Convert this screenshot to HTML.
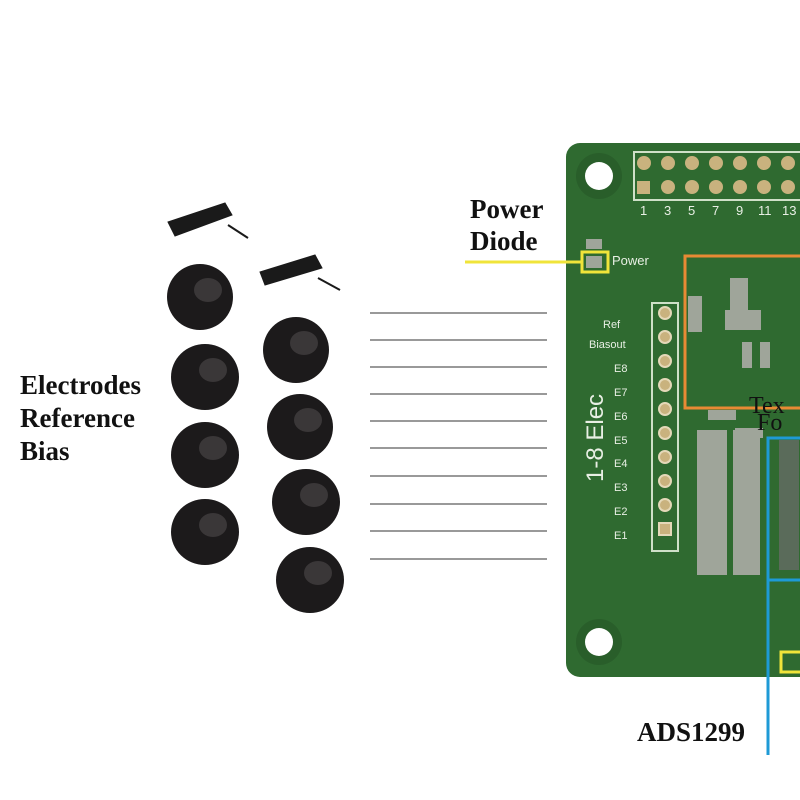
<!DOCTYPE html>
<html><head><style>body{margin:0;background:#fff}svg{display:block}</style></head><body>
<svg width="800" height="800" xmlns="http://www.w3.org/2000/svg" font-family="Liberation Serif, serif">
<rect width="800" height="800" fill="#fff"/>
<!-- PCB -->
<rect x="566" y="143" width="260" height="534" rx="14" fill="#2f6a30"/>
<circle cx="599" cy="176" r="23" fill="#295e2a"/><circle cx="599" cy="176" r="14" fill="#fff"/>
<circle cx="599" cy="642" r="23" fill="#295e2a"/><circle cx="599" cy="642" r="14" fill="#fff"/>
<rect x="634" y="152" width="170" height="48" fill="none" stroke="#cfe0c8" stroke-width="2"/>
<g fill="#c9b27e">
<rect x="637" y="181" width="13" height="13"/>
<circle cx="644" cy="163" r="7"/><circle cx="668" cy="163" r="7"/><circle cx="692" cy="163" r="7"/><circle cx="716" cy="163" r="7"/><circle cx="740" cy="163" r="7"/><circle cx="764" cy="163" r="7"/><circle cx="788" cy="163" r="7"/>
<circle cx="668" cy="187" r="7"/><circle cx="692" cy="187" r="7"/><circle cx="716" cy="187" r="7"/><circle cx="740" cy="187" r="7"/><circle cx="764" cy="187" r="7"/><circle cx="788" cy="187" r="7"/>
</g>
<g fill="#e8efe4" font-family="Liberation Sans, sans-serif" font-size="13">
<text x="640" y="215">1</text><text x="664" y="215">3</text><text x="688" y="215">5</text><text x="712" y="215">7</text><text x="736" y="215">9</text><text x="758" y="215">11</text><text x="782" y="215">13</text>
<text x="612" y="265" font-size="13">Power</text>
<g font-size="11"><text x="603" y="328">Ref</text><text x="589" y="348">Biasout</text>
<text x="614" y="372">E8</text><text x="614" y="396">E7</text><text x="614" y="420">E6</text><text x="614" y="444">E5</text><text x="614" y="467">E4</text><text x="614" y="491">E3</text><text x="614" y="515">E2</text><text x="614" y="539">E1</text></g>
<text transform="translate(603,482) rotate(-90)" font-size="24">1-8 Elec</text>
</g>
<rect x="652" y="303" width="26" height="248" fill="none" stroke="#cfe0c8" stroke-width="2"/>
<g fill="#c9b27e" stroke="#e4d8b8" stroke-width="2">
<circle cx="665" cy="313" r="6"/><circle cx="665" cy="337" r="6"/><circle cx="665" cy="361" r="6"/><circle cx="665" cy="385" r="6"/><circle cx="665" cy="409" r="6"/><circle cx="665" cy="433" r="6"/><circle cx="665" cy="457" r="6"/><circle cx="665" cy="481" r="6"/><circle cx="665" cy="505" r="6"/><rect x="659" y="523" width="12" height="12"/>
</g>
<g fill="#9fa59a">
<rect x="586" y="239" width="16" height="10"/><rect x="586" y="256" width="16" height="12"/>
<rect x="730" y="278" width="18" height="36"/><rect x="688" y="296" width="14" height="36"/><rect x="725" y="310" width="36" height="20"/>
<rect x="742" y="342" width="10" height="26"/><rect x="760" y="342" width="10" height="26"/>
<rect x="697" y="430" width="30" height="145"/><rect x="733" y="430" width="27" height="145"/>
<rect x="708" y="410" width="28" height="10"/><rect x="735" y="428" width="28" height="10"/>
</g>
<rect x="779" y="440" width="20" height="130" fill="#5a6b5a"/>
<!-- highlights -->
<rect x="685" y="256" width="120" height="152" fill="none" stroke="#e88a34" stroke-width="3"/>
<text x="749" y="413" font-size="24" fill="#111">Tex</text><text x="757" y="430" font-size="24" fill="#111">Fo</text>
<rect x="768" y="438" width="40" height="142" fill="none" stroke="#1e9ad6" stroke-width="3"/>
<line x1="768" y1="438" x2="768" y2="755" stroke="#1e9ad6" stroke-width="3"/>
<rect x="582" y="252" width="26" height="20" fill="none" stroke="#f0e43a" stroke-width="3"/>
<line x1="465" y1="262" x2="582" y2="262" stroke="#f0e43a" stroke-width="3"/>
<rect x="781" y="652" width="22" height="20" fill="none" stroke="#f0e43a" stroke-width="3"/>
<!-- labels -->
<g font-weight="bold" font-size="27" fill="#111">
<text x="470" y="218">Power</text><text x="470" y="250">Diode</text>
<text x="20" y="394">Electrodes</text><text x="20" y="427">Reference</text><text x="20" y="460">Bias</text>
<text x="637" y="741">ADS1299</text>
</g>
<!-- lines -->
<g stroke="#333" stroke-width="1">
<line x1="370" y1="313" x2="547" y2="313"/><line x1="370" y1="340" x2="547" y2="340"/><line x1="370" y1="367" x2="547" y2="367"/><line x1="370" y1="394" x2="547" y2="394"/><line x1="370" y1="421" x2="547" y2="421"/><line x1="370" y1="448" x2="547" y2="448"/><line x1="370" y1="476" x2="547" y2="476"/><line x1="370" y1="504" x2="547" y2="504"/><line x1="370" y1="531" x2="547" y2="531"/><line x1="370" y1="559" x2="547" y2="559"/>
</g>
<!-- clips -->
<g fill="#1a1a1a" stroke="#1a1a1a">
<path d="M168 222 L225 203 L232 215 L175 236 Z"/><path d="M228 225 L248 238" stroke-width="2" fill="none"/>
<path d="M260 272 L315 255 L322 268 L265 285 Z"/><path d="M318 278 L340 290" stroke-width="2" fill="none"/>
</g>
<!-- electrodes -->
<g fill="#1c1a1b">
<ellipse cx="200" cy="297" rx="33" ry="33"/><ellipse cx="205" cy="377" rx="34" ry="33"/><ellipse cx="205" cy="455" rx="34" ry="33"/><ellipse cx="205" cy="532" rx="34" ry="33"/>
<ellipse cx="296" cy="350" rx="33" ry="33"/><ellipse cx="300" cy="427" rx="33" ry="33"/><ellipse cx="306" cy="502" rx="34" ry="33"/><ellipse cx="310" cy="580" rx="34" ry="33"/>
</g>
<g fill="#3a3738">
<ellipse cx="208" cy="290" rx="14" ry="12"/><ellipse cx="213" cy="370" rx="14" ry="12"/><ellipse cx="213" cy="448" rx="14" ry="12"/><ellipse cx="213" cy="525" rx="14" ry="12"/>
<ellipse cx="304" cy="343" rx="14" ry="12"/><ellipse cx="308" cy="420" rx="14" ry="12"/><ellipse cx="314" cy="495" rx="14" ry="12"/><ellipse cx="318" cy="573" rx="14" ry="12"/>
</g>
</svg>
</body></html>
